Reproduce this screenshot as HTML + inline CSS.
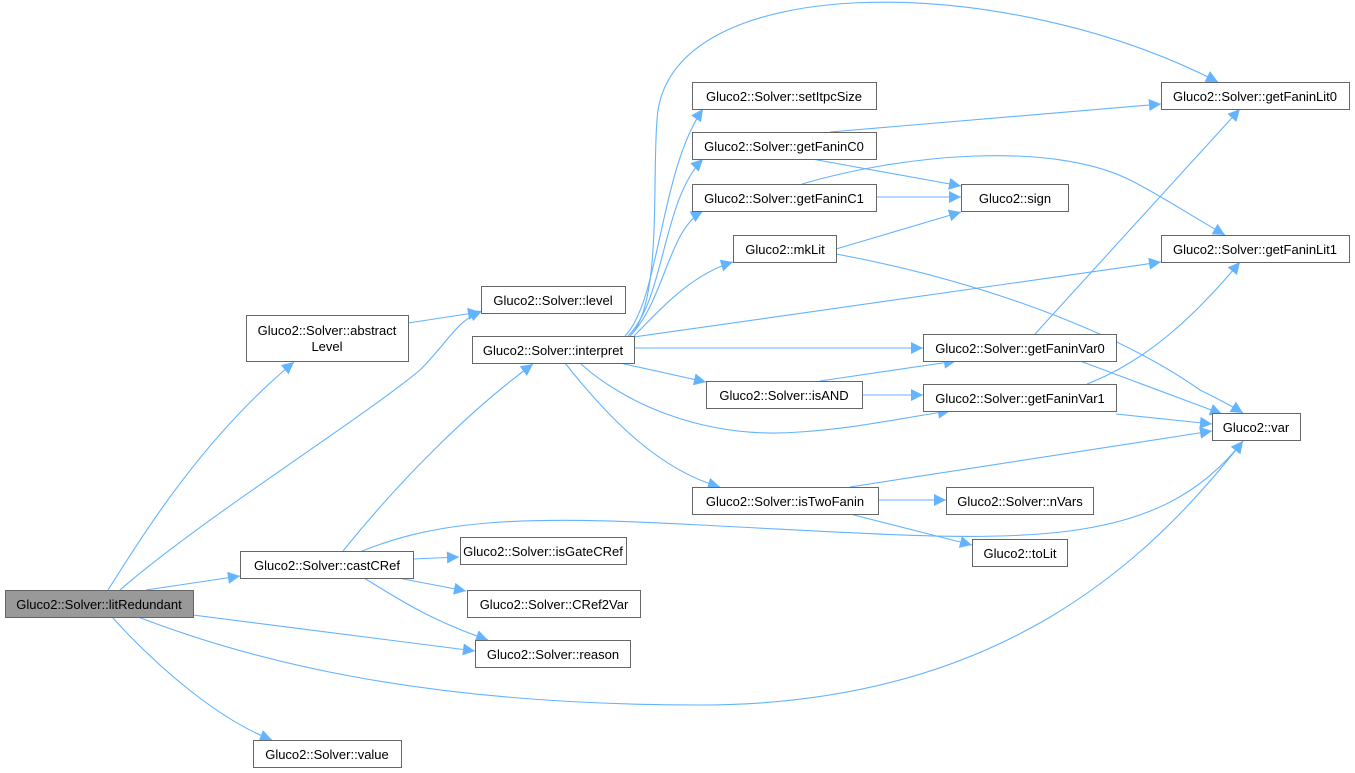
<!DOCTYPE html>
<html><head><meta charset="utf-8"><style>
html,body{margin:0;padding:0;background:#fff;width:1355px;height:773px;overflow:hidden}
text{font-family:"Liberation Sans",Arial,sans-serif;font-size:13px;fill:#000}
</style></head><body>
<svg width="1355" height="773" viewBox="0 0 1355 773" xmlns="http://www.w3.org/2000/svg">
<defs><marker id="a" viewBox="0 0 10 10" refX="10" refY="5" markerWidth="13" markerHeight="12" markerUnits="userSpaceOnUse" orient="auto"><path d="M0,0 L10,5 L0,10 z" fill="#63b3ff"/></marker></defs>
<g fill="none" stroke="#63b3ff" stroke-width="1.1" marker-end="url(#a)">
<path d="M108,590 C140,540 200,440 294,362"/>
<path d="M120,590 C200,520 360,420 420,370 C450,340 455,322 482,311"/>
<path d="M146,590 L240,576"/>
<path d="M193,615 L475,651"/>
<path d="M138,617 C250,660 420,705 700,705 C1000,705 1150,560 1243,441"/>
<path d="M112,617 C160,670 220,720 272,740"/>
<path d="M408,323 L480,312"/>
<path d="M343,551 C400,480 470,410 533,364"/>
<path d="M413,559 L459,557"/>
<path d="M398,578 L466,591"/>
<path d="M364,578 C400,600 430,620 488,640"/>
<path d="M362,551 C440,520 520,515 700,525 C1000,540 1150,560 1243,441"/>
<path d="M630,336 C662,305 652,180 657,120 C665,-30 1000,-30 1218,82"/>
<path d="M625,336 C660,300 660,170 703,109"/>
<path d="M628,336 C665,300 662,200 703,159"/>
<path d="M630,336 C665,300 668,230 703,211"/>
<path d="M634,336 C660,310 690,275 733,262"/>
<path d="M634,337 L1161,262"/>
<path d="M634,348 L923,348"/>
<path d="M620,363 L706,382"/>
<path d="M580,363 C620,400 700,440 800,432 C860,428 900,418 950,411"/>
<path d="M565,363 C610,420 660,470 720,487"/>
<path d="M830,132 L1161,104"/>
<path d="M812,159 L961,186"/>
<path d="M876,197 L961,197"/>
<path d="M802,184 C900,155 1050,140 1130,180 C1160,195 1190,215 1225,235"/>
<path d="M836,249 L961,212"/>
<path d="M836,254 C950,275 1100,320 1200,390 C1220,400 1230,405 1243,413"/>
<path d="M1035,334 L1240,109"/>
<path d="M1080,361 L1222,414"/>
<path d="M1087,384 C1150,360 1200,310 1240,262"/>
<path d="M1116,414 L1212,424"/>
<path d="M820,381 L956,361"/>
<path d="M862,395 L923,395"/>
<path d="M850,487 L1212,431"/>
<path d="M878,500 L946,500"/>
<path d="M850,514 L972,545"/>
</g>
<g stroke="#666" stroke-width="1" fill="#fff">
<rect x="5.5" y="590.5" width="188" height="27" fill="#999"/>
<rect x="246.5" y="315.5" width="162" height="46"/>
<rect x="481.5" y="286.5" width="144" height="27"/>
<rect x="472.5" y="336.5" width="162" height="27"/>
<rect x="240.5" y="551.5" width="173" height="27"/>
<rect x="460.5" y="537.5" width="166" height="27"/>
<rect x="467.5" y="590.5" width="173" height="27"/>
<rect x="475.5" y="640.5" width="155" height="27"/>
<rect x="253.5" y="740.5" width="148" height="27"/>
<rect x="692.5" y="82.5" width="184" height="27"/>
<rect x="692.5" y="132.5" width="184" height="27"/>
<rect x="692.5" y="184.5" width="184" height="27"/>
<rect x="733.5" y="235.5" width="103" height="27"/>
<rect x="706.5" y="381.5" width="156" height="27"/>
<rect x="692.5" y="487.5" width="186" height="27"/>
<rect x="961.5" y="184.5" width="107" height="27"/>
<rect x="923.5" y="334.5" width="193" height="27"/>
<rect x="923.5" y="384.5" width="193" height="27"/>
<rect x="946.5" y="487.5" width="147" height="27"/>
<rect x="972.5" y="539.5" width="95" height="27"/>
<rect x="1161.5" y="82.5" width="188" height="27"/>
<rect x="1161.5" y="235.5" width="188" height="27"/>
<rect x="1212.5" y="413.5" width="88" height="27"/>
</g>
<g text-anchor="middle">
<text x="99" y="609">Gluco2::Solver::litRedundant</text>
<text x="327" y="335">Gluco2::Solver::abstract</text>
<text x="327" y="351">Level</text>
<text x="553" y="305">Gluco2::Solver::level</text>
<text x="553" y="355">Gluco2::Solver::interpret</text>
<text x="327" y="570">Gluco2::Solver::castCRef</text>
<text x="543" y="556">Gluco2::Solver::isGateCRef</text>
<text x="554" y="609">Gluco2::Solver::CRef2Var</text>
<text x="553" y="659">Gluco2::Solver::reason</text>
<text x="327" y="759">Gluco2::Solver::value</text>
<text x="784" y="101">Gluco2::Solver::setItpcSize</text>
<text x="784" y="151">Gluco2::Solver::getFaninC0</text>
<text x="784" y="203">Gluco2::Solver::getFaninC1</text>
<text x="785" y="254">Gluco2::mkLit</text>
<text x="784" y="400">Gluco2::Solver::isAND</text>
<text x="785" y="506">Gluco2::Solver::isTwoFanin</text>
<text x="1015" y="203">Gluco2::sign</text>
<text x="1020" y="353">Gluco2::Solver::getFaninVar0</text>
<text x="1020" y="403">Gluco2::Solver::getFaninVar1</text>
<text x="1020" y="506">Gluco2::Solver::nVars</text>
<text x="1020" y="558">Gluco2::toLit</text>
<text x="1255" y="101">Gluco2::Solver::getFaninLit0</text>
<text x="1255" y="254">Gluco2::Solver::getFaninLit1</text>
<text x="1256" y="432">Gluco2::var</text>
</g>
</svg>
</body></html>
